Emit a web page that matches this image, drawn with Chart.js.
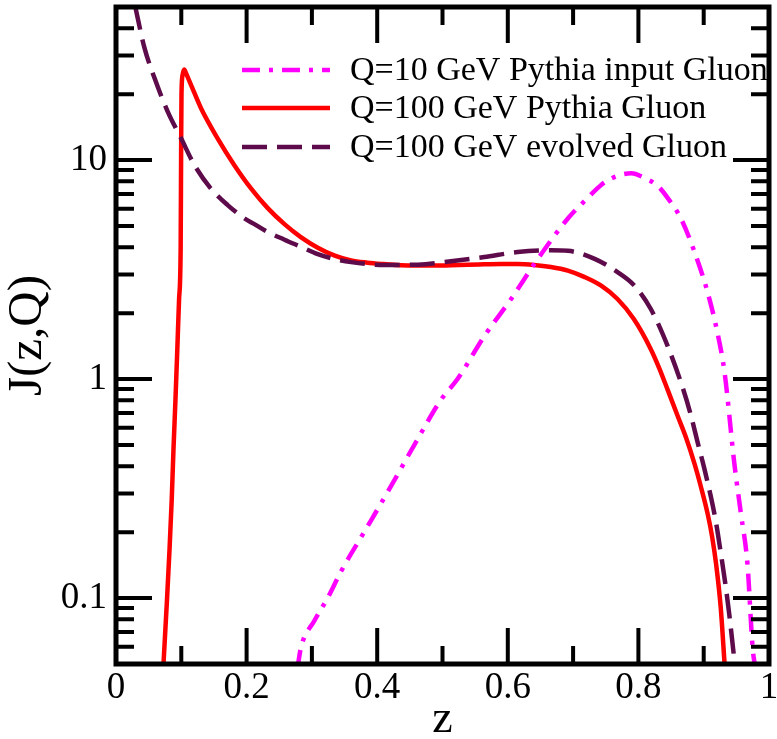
<!DOCTYPE html>
<html>
<head>
<meta charset="utf-8">
<script src="https://cdn.jsdelivr.net/npm/chart.js@4.4.1/dist/chart.umd.min.js"></script>
<style>
  html, body { margin: 0; padding: 0; background: #fff; }
  #wrap { width: 777px; height: 739px; }
</style>
</head>
<body>
<div id="wrap"><canvas id="jetChart" width="777" height="739"></canvas></div>
<script>
// Q=10 GeV Pythia input gluon
const zInput = [0.278, 0.283, 0.304, 0.324, 0.345, 0.380, 0.420, 0.460, 0.498, 0.523, 0.564, 0.605,
  0.646, 0.692, 0.722, 0.743, 0.765, 0.789, 0.809, 0.830, 0.845, 0.865, 0.886, 0.906, 0.921, 0.932,
  0.947, 0.957, 0.967, 0.975, 0.979];
const jInput = [0.048, 0.059, 0.079, 0.100, 0.133, 0.20, 0.32, 0.52, 0.807, 1.0, 1.57, 2.32,
  3.54, 5.41, 6.7, 7.7, 8.4, 8.7, 8.3, 7.6, 6.7, 5.42, 3.80, 2.49, 1.63, 1.07,
  0.41, 0.243, 0.143, 0.059, 0.048];

// Q=100 GeV Pythia gluon
const zPythia = [0.0727, 0.078, 0.0819, 0.0853, 0.088, 0.0911, 0.0939, 0.0966, 0.0990, 0.0998, 0.1003,
  0.1020, 0.1045, 0.1070, 0.1150, 0.130, 0.156, 0.181, 0.207, 0.232, 0.258, 0.283, 0.309, 0.335,
  0.360, 0.385, 0.410, 0.436, 0.462, 0.487, 0.513, 0.538, 0.564, 0.590, 0.615, 0.640, 0.666, 0.692,
  0.717, 0.743, 0.768, 0.793, 0.819, 0.832, 0.845, 0.860, 0.873, 0.886, 0.896, 0.906, 0.913, 0.919,
  0.926, 0.932];
const jPythia = [0.05, 0.097, 0.165, 0.28, 0.475, 0.81, 1.37, 2.32, 3.94, 12, 20,
  24.5, 25.9, 25.0, 22.0, 17.3, 12.5, 9.5, 7.4, 6.05, 5.1, 4.45, 3.98, 3.66,
  3.48, 3.40, 3.35, 3.31, 3.30, 3.30, 3.31, 3.33, 3.34, 3.35, 3.35, 3.32, 3.25, 3.13,
  2.93, 2.67, 2.32, 1.88, 1.37, 1.12, 0.89, 0.68, 0.54, 0.41, 0.32, 0.243, 0.19, 0.143,
  0.091, 0.05];

// Q=100 GeV evolved gluon
const zEvolved = [0.029, 0.0434, 0.0587, 0.079, 0.0995, 0.120, 0.145, 0.171, 0.197, 0.212, 0.232,
  0.258, 0.283, 0.309, 0.335, 0.360, 0.411, 0.462, 0.513, 0.564, 0.615, 0.666, 0.692, 0.733, 0.768,
  0.794, 0.819, 0.845, 0.868, 0.880, 0.891, 0.901, 0.911, 0.919, 0.926, 0.933, 0.939, 0.947];
const jEvolved = [51, 32.7, 23.8, 16.7, 12.6, 9.5, 7.43, 6.23, 5.41, 5.1, 4.70,
  4.33, 4.02, 3.72, 3.53, 3.42, 3.32, 3.33, 3.45, 3.61, 3.80, 3.87, 3.85, 3.54, 3.08,
  2.67, 2.09, 1.41, 0.91, 0.69, 0.51, 0.39, 0.29, 0.22, 0.162, 0.117, 0.085, 0.052];

const labels = ['Q=10 GeV Pythia input Gluon', 'Q=100 GeV Pythia Gluon', 'Q=100 GeV evolved Gluon'];

const xMajor = [0, 0.2, 0.4, 0.6, 0.8, 1];
const xMinor = [0.1, 0.3, 0.5, 0.7, 0.9];
const yMajor = [0.1, 1, 10];
const yMinor = [0.06, 0.07, 0.08, 0.09, 0.2, 0.3, 0.4, 0.5, 0.6, 0.7, 0.8, 0.9,
  2, 3, 4, 5, 6, 7, 8, 9, 20, 30, 40];

const SERIF = "'Liberation Serif', 'Times New Roman', serif";
const toPoints = (zs, js) => zs.map((z, i) => ({ x: z, y: js[i] }));

// inward ticks on all four sides plus the thick frame
const frameTicks = {
  id: 'frameTicks',
  afterDatasetsDraw(chart) {
    const { ctx, chartArea: a, scales: { x, y } } = chart;
    ctx.save();
    ctx.strokeStyle = '#000';
    ctx.lineCap = 'butt';
    ctx.lineWidth = 4;
    const xTick = (v, len) => {
      const px = x.getPixelForValue(v);
      ctx.beginPath();
      ctx.moveTo(px, a.bottom); ctx.lineTo(px, a.bottom - len);
      ctx.moveTo(px, a.top); ctx.lineTo(px, a.top + len);
      ctx.stroke();
    };
    const yTick = (v, len) => {
      const py = y.getPixelForValue(v);
      ctx.beginPath();
      ctx.moveTo(a.left, py); ctx.lineTo(a.left + len, py);
      ctx.moveTo(a.right, py); ctx.lineTo(a.right - len, py);
      ctx.stroke();
    };
    xMajor.forEach(v => xTick(v, 36));
    xMinor.forEach(v => xTick(v, 18));
    yMajor.forEach(v => yTick(v, 36));
    yMinor.forEach(v => yTick(v, 18));
    ctx.lineWidth = 5;
    ctx.lineJoin = 'miter';
    ctx.strokeRect(a.left, a.top, a.right - a.left, a.bottom - a.top);
    ctx.restore();
  }
};

// legend sits inside the plot, top right
const insideLegend = {
  id: 'insideLegend',
  afterDraw(chart) {
    const { ctx } = chart;
    const rows = [70, 108, 147];
    ctx.save();
    ctx.font = '34px ' + SERIF;
    ctx.textBaseline = 'middle';
    ctx.fillStyle = '#000';
    chart.data.datasets.forEach((ds, i) => {
      const yy = rows[i];
      ctx.strokeStyle = ds.borderColor;
      ctx.lineWidth = ds.borderWidth;
      ctx.setLineDash(ds.borderDash || []);
      ctx.beginPath();
      ctx.moveTo(242, yy);
      ctx.lineTo(330, yy);
      ctx.stroke();
      ctx.setLineDash([]);
      ctx.fillText(ds.label, 350, yy + 1);
    });
    ctx.restore();
  }
};

const lineDefaults = { pointRadius: 0, borderWidth: 4.5, fill: false, cubicInterpolationMode: 'monotone' };

new Chart(document.getElementById('jetChart'), {
  type: 'line',
  data: {
    datasets: [
      { ...lineDefaults, label: labels[0], data: toPoints(zInput, jInput),
        borderColor: '#ff00ff', borderDash: [18, 9, 4, 9], order: 1 },
      { ...lineDefaults, label: labels[1], data: toPoints(zPythia, jPythia),
        borderColor: '#ff0000', order: 2 },
      { ...lineDefaults, label: labels[2], data: toPoints(zEvolved, jEvolved),
        borderColor: '#5e0b4b', borderDash: [25, 10], order: 0 },
    ],
  },
  options: {
    responsive: false,
    animation: false,
    layout: { padding: { top: 7, right: 8, left: 0, bottom: 0 } },
    plugins: { legend: { display: false }, tooltip: { enabled: false } },
    scales: {
      x: {
        type: 'linear',
        min: 0,
        max: 1,
        grid: { display: false, drawTicks: false },
        border: { display: false },
        afterBuildTicks: (scale) => { scale.ticks = xMajor.map(v => ({ value: v })); },
        afterFit: (scale) => {
          scale.height = 75;
          scale.paddingLeft = 0;
          scale.paddingRight = 0;
        },
        ticks: {
          padding: 2,
          color: '#000',
          font: { family: SERIF, size: 37 },
          callback: (v) => (v === 0 || v === 1 ? String(v) : v.toFixed(1)),
        },
        title: {
          display: true,
          text: 'z',
          color: '#000',
          padding: 0,
          font: { family: SERIF, size: 46, lineHeight: 0.85 },
        },
      },
      y: {
        type: 'logarithmic',
        min: 0.05,
        max: 50,
        grid: { display: false, drawTicks: false },
        border: { display: false },
        afterBuildTicks: (scale) => { scale.ticks = yMajor.map(v => ({ value: v })); },
        afterFit: (scale) => {
          scale.width = 116;
          scale.paddingTop = 0;
          scale.paddingBottom = 0;
        },
        ticks: {
          padding: 9,
          color: '#000',
          font: { family: SERIF, size: 37 },
          callback: (v) => String(v),
        },
        title: {
          display: true,
          text: 'J(z,Q)',
          color: '#000',
          padding: 0,
          font: { family: SERIF, size: 49, lineHeight: 1.15 },
        },
      },
    },
  },
  plugins: [frameTicks, insideLegend],
});
</script>
</body>
</html>
